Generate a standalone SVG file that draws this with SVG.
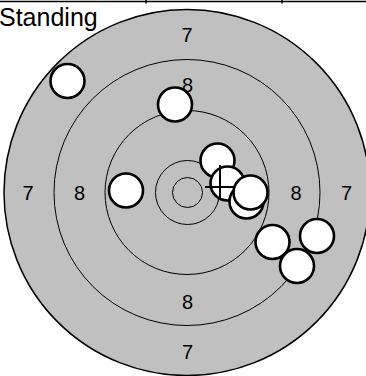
<svg xmlns="http://www.w3.org/2000/svg" width="366" height="376" viewBox="0 0 366 376">
<style>
.ring{fill:none;stroke:#000;stroke-width:1}
.shot{fill:#fff;stroke:#000;stroke-width:2.6}
.lbl{font-family:"Liberation Sans",Arial,sans-serif;font-size:20px;fill:#000;text-anchor:middle}
.title{font-family:"Liberation Sans",Arial,sans-serif;font-size:25px;fill:#000}
.cross{stroke:#000;stroke-width:2;fill:none}
</style>
<rect width="366" height="376" fill="#fff"/>
<g id="target">
<circle cx="187" cy="192.5" r="183" fill="#c0c0c0" stroke="#000" stroke-width="1.5"/>
<circle class="ring" cx="187" cy="192.5" r="133"/>
<circle class="ring" cx="187" cy="192.5" r="82"/>
<circle class="ring" cx="187.5" cy="192.5" r="32"/>
<circle class="ring" cx="187.5" cy="192.5" r="15"/>
</g>
<g id="labels">
<text class="lbl" x="187" y="42">7</text>
<text class="lbl" x="187.5" y="92">8</text>
<text class="lbl" x="28" y="200">7</text>
<text class="lbl" x="79.5" y="200">8</text>
<text class="lbl" x="296" y="200">8</text>
<text class="lbl" x="346.5" y="200">7</text>
<text class="lbl" x="187.5" y="309">8</text>
<text class="lbl" x="187.5" y="359">7</text>
</g>
<g id="header">
<line x1="0" y1="1.5" x2="366" y2="1.5" stroke="#000" stroke-width="1.5"/>
<line x1="146" y1="0" x2="146" y2="3.5" stroke="#000" stroke-width="1.5"/>
<line x1="282" y1="0" x2="282" y2="3.5" stroke="#000" stroke-width="1.5"/>
<text class="title" x="-1" y="26">Standing</text>
</g>
<g id="shots">
<circle class="shot" cx="67.5" cy="81" r="17"/>
<circle class="shot" cx="175" cy="104.5" r="17"/>
<circle class="shot" cx="126" cy="190.5" r="17"/>
<circle class="shot" cx="217.5" cy="160.5" r="17"/>
<circle class="shot" cx="227.5" cy="183.5" r="17"/>
<g id="crosshair">
<line class="cross" x1="205" y1="187" x2="236" y2="187"/>
<line class="cross" x1="220" y1="165" x2="220" y2="200"/>
</g>
<circle class="shot" cx="246.5" cy="201.5" r="17"/>
<circle class="shot" cx="250.5" cy="192.5" r="17"/>
<circle class="shot" cx="272.5" cy="242" r="17"/>
<circle class="shot" cx="317" cy="236" r="17"/>
<circle class="shot" cx="297" cy="266" r="17"/>
</g>
</svg>
